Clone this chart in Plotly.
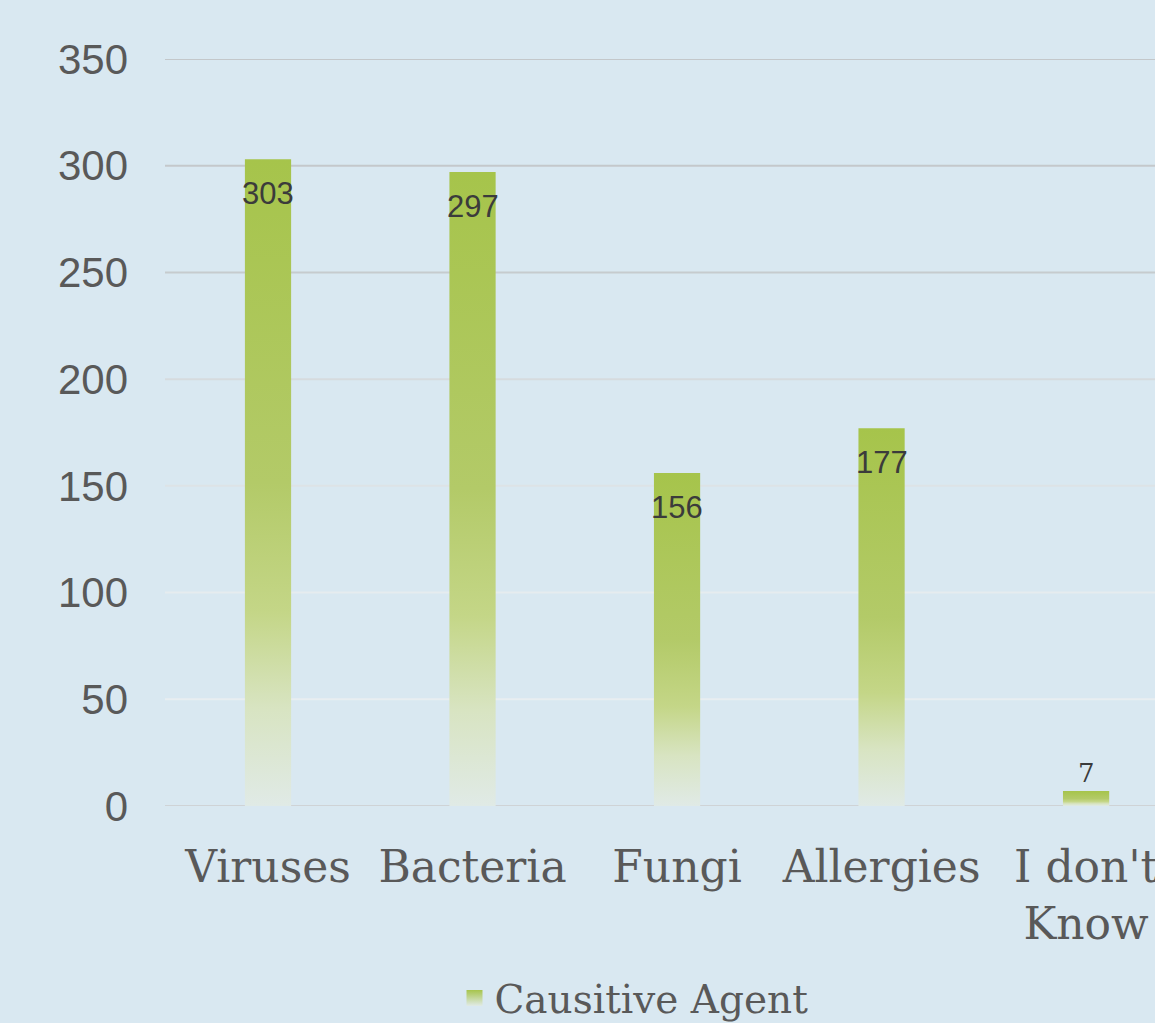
import plotly.graph_objects as go

categories = ["Viruses", "Bacteria", "Fungi", "Allergies", "I don't<br>Know"]
values = [303, 297, 156, 177, 7]
series_name = "Causitive Agent"
y_ticks = [0, 50, 100, 150, 200, 250, 300, 350]
grid_colors = ["#cfd3d6", "#e8eef1", "#e6ecef", "#dde3e6", "#d6dbde", "#c6cbce", "#c4c8cb", "#c3c7ca"]

BG = "#d9e8f1"
GREEN_SCALE = [[0.0, "#e0eae6"], [0.15, "#d8e4c2"], [0.3, "#c4d687"],
               [0.5, "#b3ca68"], [1.0, "#a6c44b"]]
HALF_W = 0.113
SERIF = "DejaVu Serif"
SANS = "Liberation Sans"

fig = go.Figure()

for i, (cat, v) in enumerate(zip(categories, values)):
    xs = [i - HALF_W, i + HALF_W, i + HALF_W, i - HALF_W, i - HALF_W]
    ys = [0, 0, v, v, 0]
    fig.add_trace(go.Scatter(
        x=xs, y=ys, mode="lines", fill="toself",
        line=dict(width=0, color="rgba(0,0,0,0)"),
        fillgradient=dict(type="vertical", colorscale=GREEN_SCALE, start=0, stop=v),
        showlegend=False, hoverinfo="skip",
    ))

# legend entry
fig.add_trace(go.Scatter(
    x=[None], y=[None], mode="markers", name=series_name,
    marker=dict(symbol="square", size=16, color="#a6c44b",
                gradient=dict(type="vertical", color="#e0eae6")),
))

# gridlines
for t, c in zip(y_ticks, grid_colors):
    fig.add_shape(type="line", xref="paper", x0=0, x1=1, yref="y", y0=t, y1=t,
                  line=dict(color=c, width=2), layer="below")

# data labels
for i, v in enumerate(values):
    inside = v > 20
    fig.add_annotation(
        x=i, y=v, text=str(v), showarrow=False,
        yanchor="top" if inside else "bottom",
        yshift=-15 if inside else 1,
        font=dict(family=SANS if inside else SERIF, size=31 if inside else 26, color="#3b3b3b"),
    )

fig.update_layout(
    width=1155, height=1023,
    margin=dict(l=165, r=0, t=59, b=217),
    paper_bgcolor=BG, plot_bgcolor=BG,
    showlegend=True,
    legend=dict(orientation="h", x=0.3935, xanchor="left", xref="container",
                y=0.0244, yref="container", yanchor="middle",
                font=dict(family=SERIF, size=39, color="#595959"),
                bgcolor="rgba(0,0,0,0)"),
    xaxis=dict(
        range=[-0.5037, 4.337], tickmode="array",
        tickvals=list(range(len(categories))), ticktext=categories,
        showgrid=False, zeroline=False, showline=False, automargin=False,
        tickfont=dict(family=SERIF, size=44, color="#595959"),
        ticks="", ticklabelstandoff=31, ticklabeloverflow="allow",
    ),
    yaxis=dict(
        range=[0, 350], tickmode="array", tickvals=y_ticks,
        showgrid=False, zeroline=False, showline=False, automargin=False,
        tickfont=dict(family=SANS, size=42, color="#595959"),
        ticks="", ticklabelstandoff=36,
    ),
)

fig.write_html("out.html", config={"displayModeBar": False},
               post_script="document.body.style.margin='0px';")
